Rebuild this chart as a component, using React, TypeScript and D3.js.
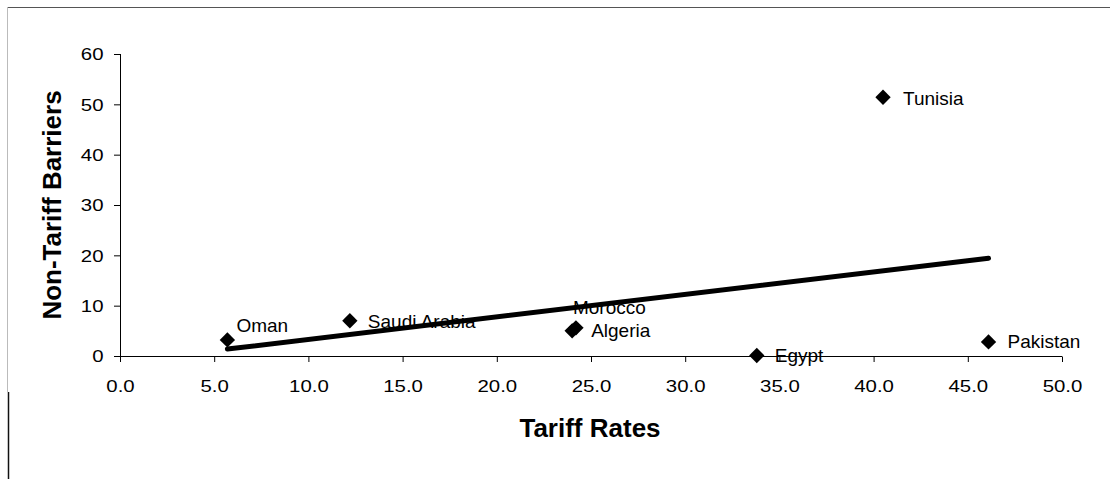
import React from "react";
import * as d3 from "d3";

const countries = ["Oman", "Saudi Arabia", "Morocco", "Algeria", "Egypt", "Tunisia", "Pakistan"];
const tariffRates = [5.7, 12.2, 24.2, 24.0, 33.8, 40.5, 46.1];
const nonTariffBarriers = [3.2, 7.0, 5.6, 5.0, 0.1, 51.4, 2.8];
const xTicks = [0, 5, 10, 15, 20, 25, 30, 35, 40, 45, 50];
const yTicks = [0, 10, 20, 30, 40, 50, 60];

// label placement offsets (dx, dy) relative to the marker
const labelOffsets: Record<string, [number, number]> = {
  Oman: [9, -8],
  "Saudi Arabia": [18, 7],
  Morocco: [-3, -14],
  Algeria: [19, 6],
  Egypt: [18, 6.5],
  Tunisia: [20, 8],
  Pakistan: [19, 6],
};

const W = 1110;
const H = 479;
const FONT = "'Liberation Sans', Arial, sans-serif";

export default function App() {
  const x = d3.scaleLinear().domain([0, 50]).range([120, 1062]);
  const y = d3.scaleLinear().domain([0, 60]).range([356, 54]);

  // least-squares trend line
  const mx = d3.mean(tariffRates)!;
  const my = d3.mean(nonTariffBarriers)!;
  const sxy = d3.sum(tariffRates.map((v, i) => (v - mx) * (nonTariffBarriers[i] - my)));
  const sxx = d3.sum(tariffRates.map((v) => (v - mx) ** 2));
  const slope = sxy / sxx;
  const intercept = my - slope * mx;
  const [x0, x1] = d3.extent(tariffRates) as [number, number];
  const trend = d3.line<number>().x((d) => x(d)).y((d) => y(intercept + slope * d))([x0, x1]);

  const diamond = d3.symbol().type(d3.symbolDiamond2).size(150)();

  return (
    <svg
      width={W}
      height={H}
      style={{ position: "absolute", left: 0, top: 0, background: "#fff" }}
      fontFamily={FONT}
    >
      <rect x={0} y={0} width={W} height={H} fill="#fff" />
      {/* frame */}
      <line x1={7} x2={W} y1={7.5} y2={7.5} stroke="#555" strokeWidth={1} />
      <line x1={7.5} x2={7.5} y1={7} y2={392} stroke="#bbb" strokeWidth={1} />
      <line x1={8.5} x2={8.5} y1={392} y2={H} stroke="#111" strokeWidth={1.5} />

      {/* y axis */}
      <line x1={120.5} x2={120.5} y1={y(60)} y2={y(0)} stroke="#000" strokeWidth={1} />
      {yTicks.map((t) => (
        <g key={"y" + t}>
          <line x1={114} x2={120.5} y1={y(t) + 0.5} y2={y(t) + 0.5} stroke="#000" />
          <text
            transform={`translate(103.5,${y(t) + 6.3}) scale(1.2,1)`}
            textAnchor="end"
            fontSize={17}
            fill="#000"
          >
            {t}
          </text>
        </g>
      ))}

      {/* x axis */}
      <line x1={x(0)} x2={x(50)} y1={356.5} y2={356.5} stroke="#000" strokeWidth={1} />
      {xTicks.map((t) => (
        <g key={"x" + t}>
          <line x1={x(t) + 0.5} x2={x(t) + 0.5} y1={356.5} y2={362} stroke="#000" />
          <text
            transform={`translate(${x(t) + 0.5},391.5) scale(1.2,1)`}
            textAnchor="middle"
            fontSize={17}
            fill="#000"
          >
            {t.toFixed(1)}
          </text>
        </g>
      ))}

      {/* axis titles */}
      <text x={590} y={436.5} textAnchor="middle" fontSize={26} fontWeight="bold" fill="#000">
        Tariff Rates
      </text>
      <text
        transform={`translate(61,205) rotate(-90)`}
        textAnchor="middle"
        fontSize={26}
        fontWeight="bold"
        fill="#000"
      >
        Non-Tariff Barriers
      </text>

      {/* trend line */}
      <path d={trend ?? ""} fill="none" stroke="#000" strokeWidth={5} strokeLinecap="round" />

      {/* points */}
      {countries.map((c, i) => (
        <path
          key={"p" + c}
          d={diamond ?? ""}
          transform={`translate(${x(tariffRates[i])},${y(nonTariffBarriers[i])})`}
          fill="#000"
        />
      ))}

      {/* labels */}
      {countries.map((c, i) => {
        const [dx, dy] = labelOffsets[c];
        return (
          <text
            key={"l" + c}
            x={x(tariffRates[i]) + dx}
            y={y(nonTariffBarriers[i]) + dy}
            fontSize={19}
            fill="#000"
          >
            {c}
          </text>
        );
      })}
    </svg>
  );
}
